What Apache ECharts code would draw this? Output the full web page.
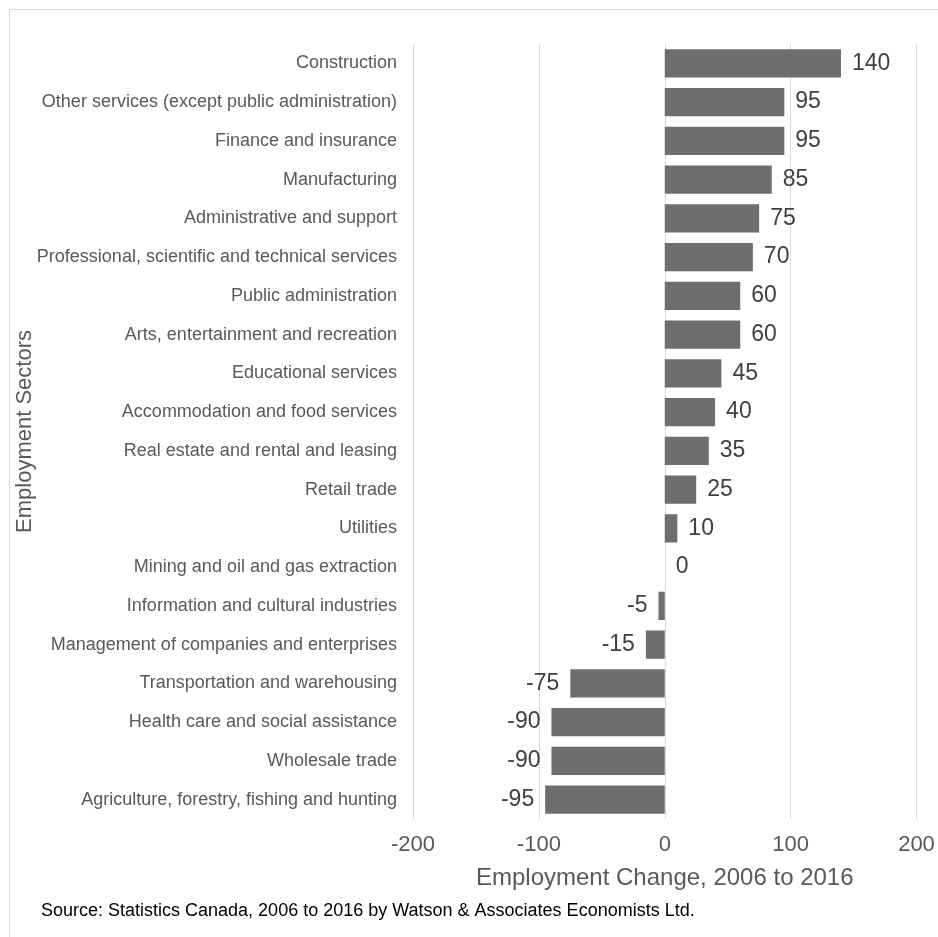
<!DOCTYPE html>
<html>
<head>
<meta charset="utf-8">
<script src="https://cdn.jsdelivr.net/npm/echarts@6/dist/echarts.min.js"></script>
<style>
html,body{margin:0;padding:0;background:#fff;}
#chart{width:938px;height:937px;}
</style>
</head>
<body>
<div id="chart"></div>
<script>
var categories = [
  "Construction",
  "Other services (except public administration)",
  "Finance and insurance",
  "Manufacturing",
  "Administrative and support",
  "Professional, scientific and technical services",
  "Public administration",
  "Arts, entertainment and recreation",
  "Educational services",
  "Accommodation and food services",
  "Real estate and rental and leasing",
  "Retail trade",
  "Utilities",
  "Mining and oil and gas extraction",
  "Information and cultural industries",
  "Management of companies and enterprises",
  "Transportation and warehousing",
  "Health care and social assistance",
  "Wholesale trade",
  "Agriculture, forestry, fishing and hunting"
];
var changes = [140, 95, 95, 85, 75, 70, 60, 60, 45, 40, 35, 25, 10, 0, -5, -15, -75, -90, -90, -95];
var xTicks = [-200, -100, 0, 100, 200];
var xAxisTitle = "Employment Change, 2006 to 2016";
var yAxisTitle = "Employment Sectors";
var sourceText = "Source: Statistics Canada, 2006 to 2016 by Watson & Associates Economists Ltd.";

var FONT = '"Liberation Sans", Arial, Helvetica, sans-serif';
var chart = echarts.init(document.getElementById('chart'), null, {renderer: 'canvas'});

var barData = changes.map(function (v) {
  return {
    value: v,
    label: {position: v < 0 ? 'left' : 'right'}
  };
});

chart.setOption({
  animation: false,
  backgroundColor: '#ffffff',
  textStyle: {fontFamily: FONT},
  graphic: [
    {
      type: 'rect',
      shape: {x: 9.5, y: 9.5, width: 1000, height: 1000},
      style: {fill: 'none', stroke: '#d9d9d9', lineWidth: 1},
      z: -10
    },
    {
      type: 'text',
      left: 41,
      top: 902,
      style: {text: sourceText, font: '18px ' + FONT, fill: '#000000'}
    }
  ],
  grid: {
    left: 413,
    right: 21.5,
    top: 44,
    bottom: 118,
    outerBoundsMode: 'none'
  },
  xAxis: {
    type: 'value',
    min: xTicks[0],
    max: xTicks[xTicks.length - 1],
    interval: xTicks[1] - xTicks[0],
    axisLine: {show: false},
    axisTick: {show: false},
    splitLine: {show: true, lineStyle: {color: '#d9d9d9', width: 1}},
    axisLabel: {color: '#595959', fontSize: 22, margin: 15, fontFamily: FONT},
    name: xAxisTitle,
    nameLocation: 'middle',
    nameGap: 47,
    nameMoveOverlap: false,
    nameTextStyle: {color: '#595959', fontSize: 24, fontFamily: FONT}
  },
  yAxis: {
    type: 'category',
    data: categories,
    inverse: true,
    axisLine: {show: false, onZero: false},
    axisTick: {show: false},
    splitLine: {show: false},
    axisLabel: {color: '#595959', fontSize: 18, margin: 16, fontFamily: FONT},
    name: yAxisTitle,
    nameLocation: 'middle',
    nameGap: 377,
    nameRotate: 90,
    nameMoveOverlap: false,
    nameTextStyle: {color: '#595959', fontSize: 22, fontFamily: FONT}
  },
  series: [{
    type: 'bar',
    data: barData,
    barCategoryGap: '27%',
    itemStyle: {color: '#6e6e6e'},
    label: {
      show: true,
      distance: 11,
      color: '#404040',
      fontSize: 23,
      fontFamily: FONT
    }
  }]
});
</script>
</body>
</html>
